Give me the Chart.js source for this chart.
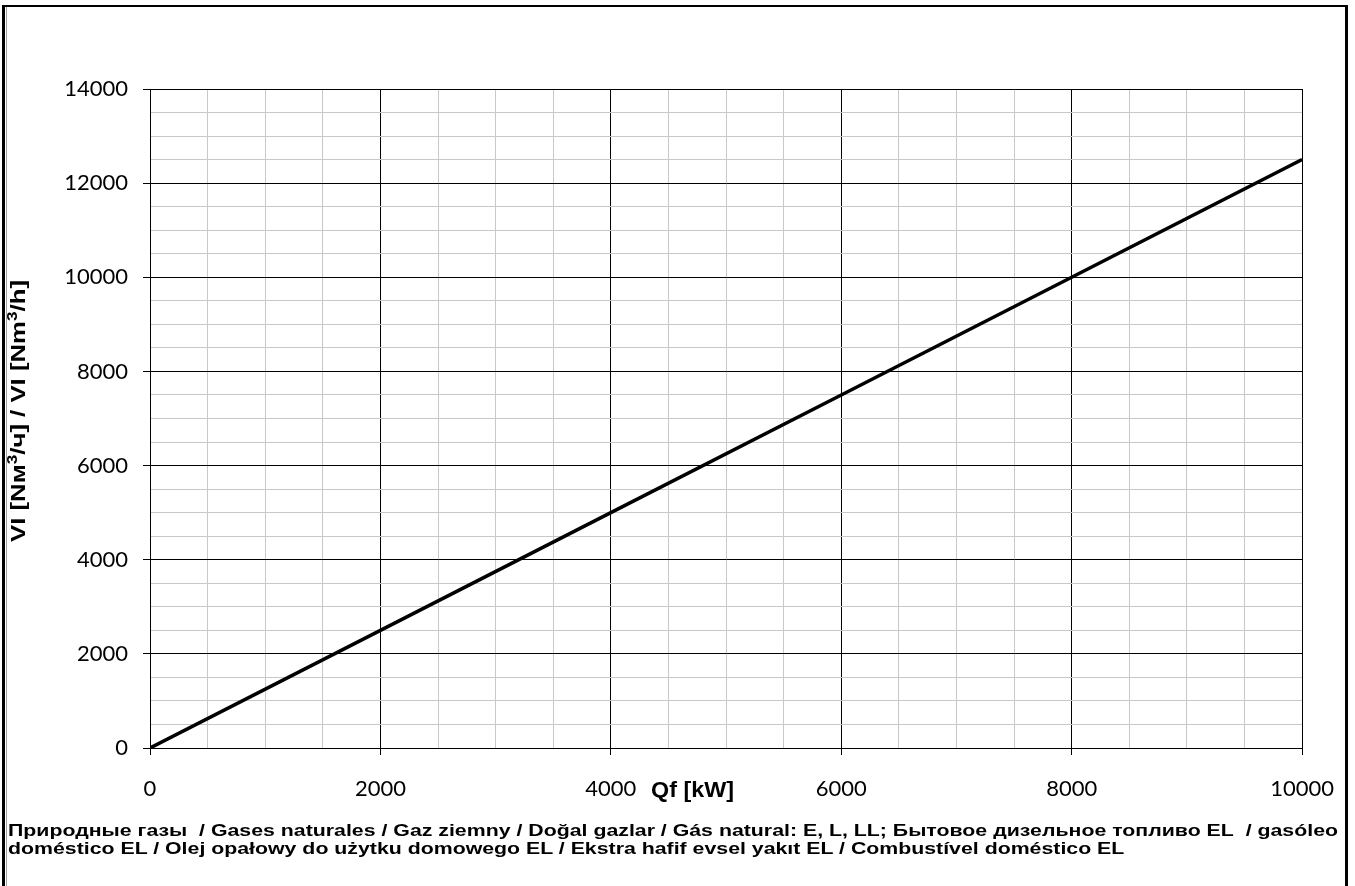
<!DOCTYPE html>
<html>
<head>
<meta charset="utf-8">
<script src="https://cdn.jsdelivr.net/npm/chart.js@4"></script>
<style>
  html, body { margin: 0; padding: 0; background: #fff; }
  #wrap { position: relative; width: 1355px; height: 886px; overflow: hidden; }
  #grafico { position: absolute; left: 0; top: 0; }
  #legenda {
    position: absolute; left: 8px; top: 822px;
    font: bold 17px "Liberation Sans", Arial, sans-serif;
    line-height: 18px; color: #000; white-space: nowrap;
    transform-origin: 0 0;
  }
</style>
</head>
<body>
<div id="wrap">
  <canvas id="grafico" width="1355" height="886"></canvas>
  <div id="legenda">
    <div id="linha1"><span id="medida">Природные газы&nbsp; / Gases naturales / Gaz ziemny / Doğal gazlar / Gás natural: E, L, LL; Бытовое дизельное топливо EL&nbsp; / gasóleo</span></div>
    <div>doméstico EL / Olej opałowy do użytku domowego EL / Ekstra hafif evsel yakıt EL / Combustível doméstico EL</div>
  </div>
</div>
<script>
// dados
const potencia = [0, 2000, 4000, 6000, 8000, 10000];      // Qf [kW]
const vazao = [0, 2500, 5000, 7500, 10000, 12500];        // VI [Nm3/h]
const eixoX = { min: 0, max: 10000, passo: 500, principal: 2000 };
const eixoY = { min: 0, max: 14000, passo: 500, principal: 2000 };

const fonteTicks = { family: "Lato", size: 22 };
const negrito = "'Liberation Sans', Arial, sans-serif";

function corGrade(principal) {
  return ctx => (ctx.tick && ctx.tick.value % principal === 0) ? "#000" : "#c8c8c8";
}
function corTick(principal) {
  return ctx => (ctx.tick && ctx.tick.value % principal === 0) ? "#000" : "rgba(0,0,0,0)";
}

// texto com expoente, esticado para uma largura
function textoExpoente(ctx, partes, x, y, largura) {
  const grande = "bold 21px " + negrito;
  const pequeno = "bold 14px " + negrito;
  let total = 0;
  partes.forEach(p => {
    ctx.font = p.sup ? pequeno : grande;
    total += ctx.measureText(p.t).width;
  });
  const esc = largura / total;
  ctx.save();
  ctx.translate(x - largura / 2, y);
  ctx.scale(esc, 1);
  let pos = 0;
  partes.forEach(p => {
    ctx.font = p.sup ? pequeno : grande;
    ctx.fillText(p.t, pos, p.sup ? -8 : 0);
    pos += ctx.measureText(p.t).width;
  });
  ctx.restore();
}

// titulos e moldura
const pluginExtras = {
  id: "extras",
  afterDraw(chart) {
    const { ctx } = chart;
    ctx.save();
    ctx.fillStyle = "#000";
    ctx.textBaseline = "alphabetic";
    ctx.textAlign = "left";

    // eixo x
    ctx.font = "bold 22px " + negrito;
    const wq = ctx.measureText("Qf [kW]").width;
    ctx.save();
    ctx.translate(651, 797);
    ctx.scale(83 / wq, 1);
    ctx.fillText("Qf [kW]", 0, 0);
    ctx.restore();

    // eixo y
    ctx.save();
    ctx.translate(0, 411);
    ctx.rotate(-Math.PI / 2);
    textoExpoente(ctx, [
      { t: "VI [Nм" }, { t: "3", sup: true }, { t: "/ч] / VI [Nm" }, { t: "3", sup: true }, { t: "/h]" }
    ], 0, 25, 262);
    ctx.restore();

    // moldura
    ctx.fillRect(2, 5, 3, 881);
    ctx.fillRect(2, 5, 1346, 2);
    ctx.fillRect(1345, 5, 3, 881);
    ctx.fillStyle = "#a0a0a0";
    ctx.fillRect(6, 7, 1, 879);
    ctx.restore();
  }
};

const pontos = potencia.map((x, i) => ({ x, y: vazao[i] }));

new Chart(document.getElementById("grafico").getContext("2d"), {
  type: "scatter",
  data: {
    datasets: [{
      data: pontos,
      showLine: true,
      borderColor: "#000",
      borderWidth: 3.5,
      pointRadius: 0,
      tension: 0
    }]
  },
  options: {
    responsive: false,
    animation: false,
    layout: { padding: { left: 0, right: 52, top: 89, bottom: 88 } },
    plugins: { legend: { display: false }, tooltip: { enabled: false } },
    scales: {
      x: {
        type: "linear",
        min: eixoX.min, max: eixoX.max,
        afterFit: s => { s.height = 50; },
        ticks: {
          stepSize: eixoX.passo, autoSkip: false, maxRotation: 0,
          color: "#000", font: fonteTicks, padding: 21,
          callback: v => v % eixoX.principal === 0 ? v : ""
        },
        grid: { color: corGrade(eixoX.principal), tickColor: corTick(eixoX.principal), tickLength: 7, lineWidth: 1 },
        border: { color: "#000", width: 1 }
      },
      y: {
        type: "linear",
        min: eixoY.min, max: eixoY.max,
        afterFit: s => { s.width = 150; },
        ticks: {
          stepSize: eixoY.passo, autoSkip: false,
          color: "#000", font: fonteTicks, padding: 15,
          callback: v => v % eixoY.principal === 0 ? v : ""
        },
        grid: { color: corGrade(eixoY.principal), tickColor: corTick(eixoY.principal), tickLength: 7, lineWidth: 1 },
        border: { color: "#000", width: 1 }
      }
    }
  },
  plugins: [pluginExtras]
});

// ajusta a largura da legenda ao texto original
const leg = document.getElementById("legenda");
const medida = document.getElementById("medida");
const escala = 1330 / medida.getBoundingClientRect().width;
leg.style.transform = "scaleX(" + escala + ")";
</script>
</body>
</html>
